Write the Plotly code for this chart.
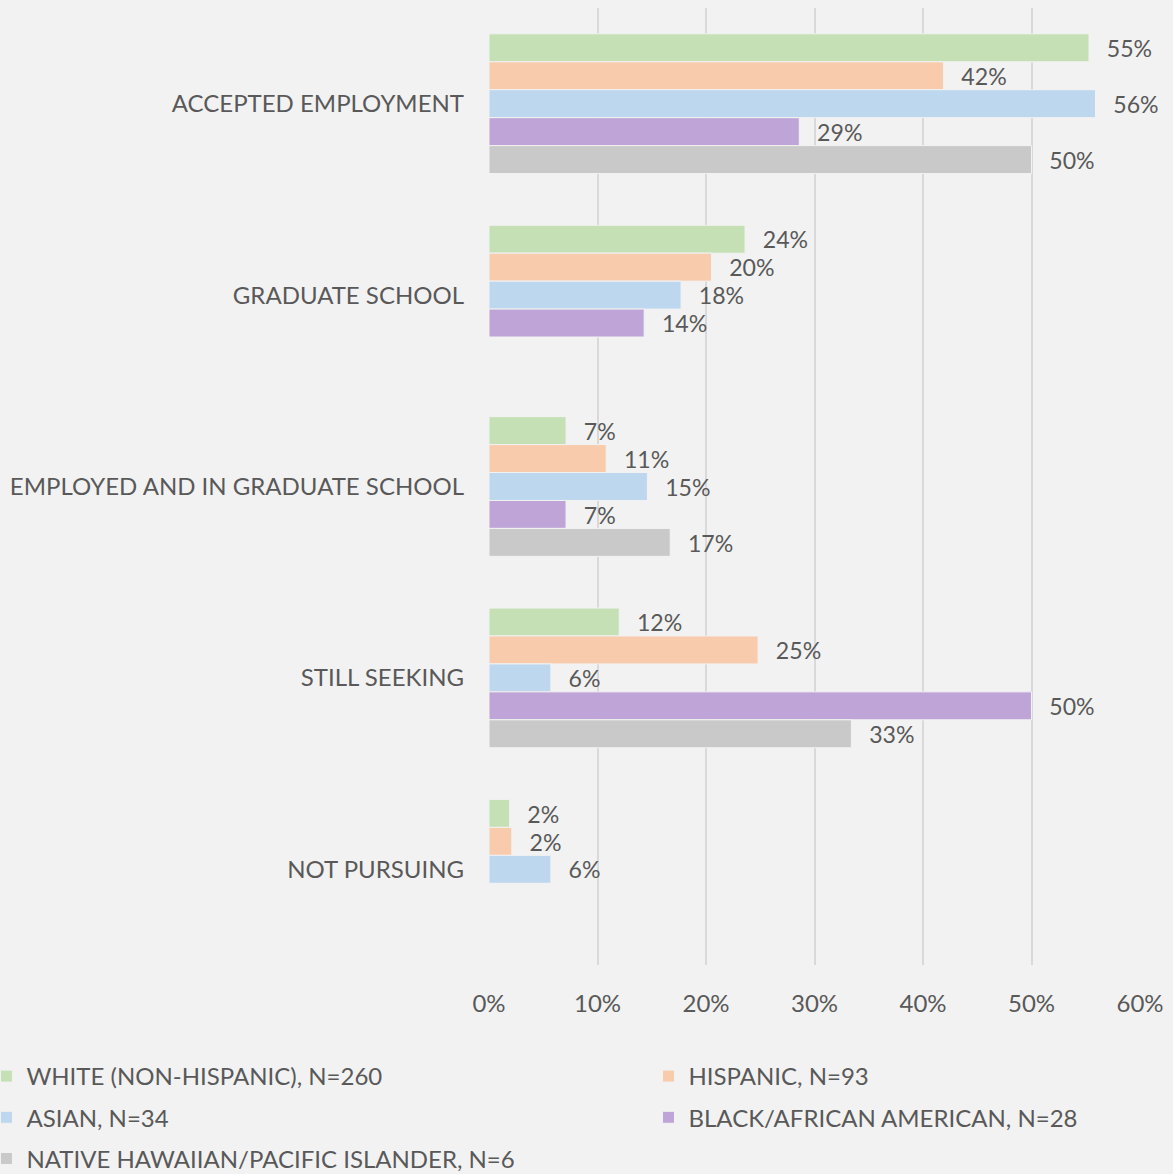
import plotly.graph_objects as go

categories = ["ACCEPTED EMPLOYMENT", "GRADUATE SCHOOL", "EMPLOYED AND IN GRADUATE SCHOOL",
              "STILL SEEKING", "NOT PURSUING"]
series_names = ["WHITE (NON-HISPANIC), N=260", "HISPANIC, N=93", "ASIAN, N=34",
                "BLACK/AFRICAN AMERICAN, N=28", "NATIVE HAWAIIAN/PACIFIC ISLANDER, N=6"]
white = [0.553, 0.236, 0.071, 0.12, 0.019]
hispanic = [0.419, 0.205, 0.108, 0.248, 0.021]
asian = [0.559, 0.177, 0.146, 0.057, 0.057]
black = [0.286, 0.143, 0.071, 0.50, None]
nhpi = [0.50, None, 0.167, 0.334, None]
x_ticks = [0, 0.1, 0.2, 0.3, 0.4, 0.5, 0.6]
x_tick_labels = ["0%", "10%", "20%", "30%", "40%", "50%", "60%"]

colors = ["#c5e0b4", "#f8cbad", "#bdd7ee", "#bfa5d7", "#c9c9c9"]
all_values = [white, hispanic, asian, black, nhpi]
legend_ref = ["legend", "legend2", "legend", "legend2", "legend"]

FONT = "Lato"
TXT = "#595959"
NB = "\u00a0\u00a0\u2009"

fig = go.Figure()
for i, (name, vals) in enumerate(zip(series_names, all_values)):
    fig.add_trace(go.Bar(
        y=categories, x=vals, name=name, orientation="h",
        marker=dict(color=colors[i], line=dict(color="#f2f2f2", width=1)),
        text=[(NB + "%d%%" % round(v * 100)) if v is not None else "" for v in vals],
        textposition="outside", cliponaxis=False,
        textfont=dict(family=FONT, size=24, color=TXT),
        legend=legend_ref[i], legendgroup=name,
    ))

fig.update_layout(
    width=1173, height=1174,
    paper_bgcolor="#f2f2f2", plot_bgcolor="#f2f2f2",
    margin=dict(l=489, r=33, t=8, b=209, autoexpand=False),
    barmode="group", bargap=0.27, bargroupgap=0,
    font=dict(family=FONT, size=24, color=TXT),
    showlegend=True,
    legend=dict(orientation="v", x=-0.772, xanchor="left", y=-0.093, yanchor="top",
                font=dict(family=FONT, size=24, color=TXT), tracegroupgap=7,
                bgcolor="rgba(0,0,0,0)"),
    legend2=dict(orientation="v", x=0.245, xanchor="left", y=-0.093, yanchor="top",
                 font=dict(family=FONT, size=24, color=TXT), tracegroupgap=7,
                 bgcolor="rgba(0,0,0,0)"),
    xaxis=dict(range=[0, 0.6], tickvals=x_ticks, ticktext=x_tick_labels,
               showgrid=True, gridcolor="#d9d9d9", gridwidth=1.5, zeroline=False,
               showline=False, ticklabelstandoff=22,
               tickfont=dict(family=FONT, size=24, color=TXT)),
    yaxis=dict(autorange="reversed", showgrid=False, showline=False, zeroline=False,
               ticklabelstandoff=24, tickfont=dict(family=FONT, size=24, color=TXT)),
)

fig.write_html("out.html", config={"displayModeBar": False},
               post_script="document.body.style.margin='0';document.body.style.overflow='hidden';")
